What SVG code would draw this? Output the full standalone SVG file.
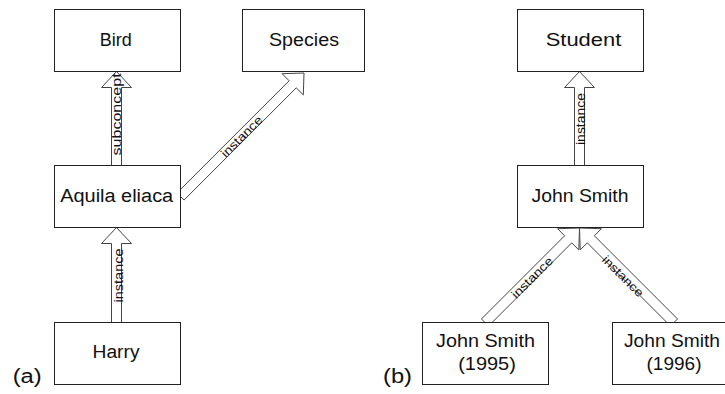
<svg xmlns="http://www.w3.org/2000/svg" width="725" height="394" viewBox="0 0 725 394">
<style>
.box{fill:#fff;stroke:#222;stroke-width:1}
.arr{fill:#fff;stroke:#444;stroke-width:1;stroke-linejoin:miter}
.t{font-family:"Liberation Sans",Arial,sans-serif;font-size:18px;fill:#111;text-anchor:middle}
.lb{font-family:"Liberation Sans",Arial,sans-serif;font-size:12px;fill:#111;text-anchor:middle}
.cap{font-family:"Liberation Sans",Arial,sans-serif;font-size:20px;fill:#111}
</style>
<rect width="725" height="394" fill="#fff"/>
<g id="connectors">
  <g id="e-aquila-bird">
    <polygon class="arr" points="111.5,165.5 111.5,87.5 101.5,87.5 116.5,71.5 131.5,87.5 121.5,87.5 121.5,165.5"/>
    <text class="lb" transform="translate(120.9,114.4) rotate(-90)" textLength="82" lengthAdjust="spacingAndGlyphs">subconcept</text>
  </g>
  <g id="e-harry-aquila">
    <polygon class="arr" points="111.5,322.5 111.5,243.5 101.5,243.5 116.5,227.5 131.5,243.5 121.5,243.5 121.5,322.5"/>
    <text class="lb" transform="translate(122.5,275.5) rotate(-90)" textLength="54" lengthAdjust="spacingAndGlyphs">instance</text>
  </g>
  <g id="e-aquila-species">
    <polygon class="arr" points="184.04,200.04 296.23,87.85 303.3,94.92 304,73 282.08,73.7 289.15,80.77 176.96,192.96"/>
    <text class="lb" transform="translate(244.5,139.5) rotate(-45)" textLength="53" lengthAdjust="spacingAndGlyphs">instance</text>
  </g>
  <g id="e-john-student">
    <polygon class="arr" points="574.5,165.5 574.5,87.5 564.5,87.5 579.5,71.5 594.5,87.5 584.5,87.5 584.5,165.5"/>
    <text class="lb" transform="translate(584.5,119) rotate(-90)" textLength="52" lengthAdjust="spacingAndGlyphs">instance</text>
  </g>
  <g id="e-1995-john">
    <polygon class="arr" points="488.54,326.04 571.73,242.85 578.8,249.92 579.5,228 557.58,228.7 564.65,235.77 481.46,318.96"/>
    <text class="lb" transform="translate(535,280.5) rotate(-45)" textLength="53" lengthAdjust="spacingAndGlyphs">instance</text>
  </g>
  <g id="e-1996-john">
    <polygon class="arr" points="677.54,318.96 594.35,235.77 601.42,228.7 579.5,228 580.2,249.92 587.27,242.85 670.46,326.04"/>
    <text class="lb" transform="translate(620,279.2) rotate(45)" textLength="53" lengthAdjust="spacingAndGlyphs">instance</text>
  </g>
</g>
<g id="bird">
  <rect class="box" x="54.5" y="9.5" width="126" height="62"/>
  <text class="t" x="115.8" y="46" textLength="32" lengthAdjust="spacingAndGlyphs">Bird</text>
</g>
<g id="species">
  <rect class="box" x="242.5" y="9.5" width="122" height="62"/>
  <text class="t" x="304" y="46" textLength="70" lengthAdjust="spacingAndGlyphs">Species</text>
</g>
<g id="aquila">
  <rect class="box" x="54.5" y="165.5" width="126" height="62"/>
  <text class="t" x="116.7" y="201.7" textLength="113" lengthAdjust="spacingAndGlyphs">Aquila eliaca</text>
</g>
<g id="harry">
  <rect class="box" x="54.5" y="322.5" width="126" height="62"/>
  <text class="t" x="116" y="358.3" textLength="47" lengthAdjust="spacingAndGlyphs">Harry</text>
</g>
<g id="student">
  <rect class="box" x="517.5" y="9.5" width="126" height="62"/>
  <text class="t" x="583.5" y="46" textLength="75.6" lengthAdjust="spacingAndGlyphs">Student</text>
</g>
<g id="johnsmith">
  <rect class="box" x="517.5" y="165.5" width="126" height="62"/>
  <text class="t" x="580" y="201.7" textLength="97" lengthAdjust="spacingAndGlyphs">John Smith</text>
</g>
<g id="johnsmith1995">
  <rect class="box" x="422.5" y="322.5" width="126" height="62"/>
  <text class="t" x="485.5" y="346.7" textLength="99" lengthAdjust="spacingAndGlyphs">John Smith</text>
  <text class="t" x="487" y="370" textLength="57.7" lengthAdjust="spacingAndGlyphs">(1995)</text>
</g>
<g id="johnsmith1996">
  <rect class="box" x="612.5" y="322.5" width="126" height="62"/>
  <text class="t" x="672" y="346.7" textLength="96" lengthAdjust="spacingAndGlyphs">John Smith</text>
  <text class="t" x="674" y="370" textLength="55" lengthAdjust="spacingAndGlyphs">(1996)</text>
</g>
<text class="cap" x="12.7" y="383" textLength="29" lengthAdjust="spacingAndGlyphs">(a)</text>
<text class="cap" x="383" y="383" textLength="29" lengthAdjust="spacingAndGlyphs">(b)</text>
</svg>
